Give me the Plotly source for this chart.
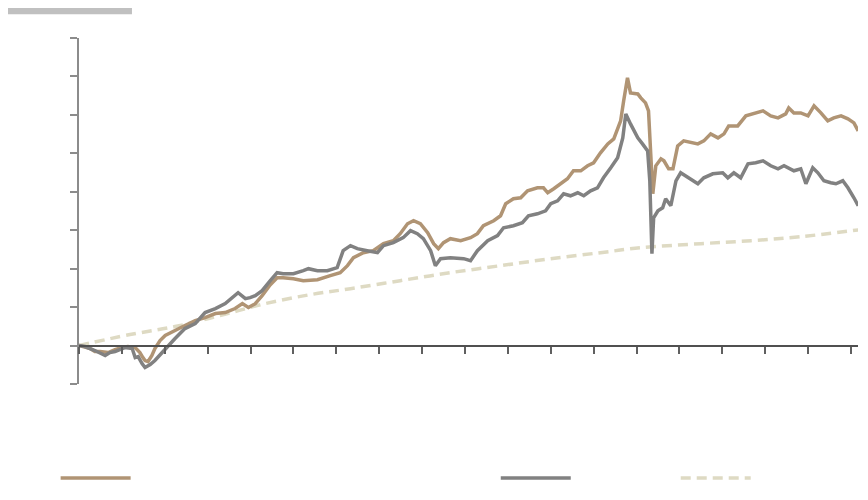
import plotly.graph_objects as go

# x: years since start; y: cumulative return (%)
tan_x = [0.00,0.14,0.26,0.37,0.49,0.68,0.84,1.00,1.14,1.31,1.42,1.49,1.54,1.61,1.70,1.77,1.89,2.01,2.12,2.24,2.47,2.71,2.94,3.18,3.41,3.64,3.81,3.95,4.11,4.27,4.46,4.62,4.76,5.00,5.23,5.56,5.86,6.09,6.26,6.40,6.63,6.86,7.10,7.33,7.49,7.66,7.80,7.96,8.13,8.27,8.38,8.50,8.66,8.90,9.13,9.29,9.43,9.67,9.83,9.95,10.13,10.30,10.46,10.69,10.83,10.93,11.07,11.23,11.39,11.53,11.70,11.86,12.00,12.16,12.33,12.47,12.63,12.70,12.79,12.86,13.03,13.10,13.21,13.28,13.33,13.38,13.45,13.57,13.64,13.75,13.85,13.96,14.10,14.27,14.43,14.57,14.73,14.90,15.04,15.15,15.36,15.55,15.74,15.95,16.13,16.30,16.48,16.55,16.67,16.83,17.00,17.14,17.30,17.46,17.60,17.77,17.93,18.07,18.17]
tan_y = [0,-2.6,-3.9,-7.8,-7.8,-9.1,-5.2,-2.6,-1.3,-2.6,-9.1,-15.6,-19.5,-20.8,-13.0,-3.9,6.5,13.0,15.6,19.5,26.0,32.5,36.4,41.6,42.9,48.1,54.5,49.4,54.5,64.9,79.2,88.3,88.3,87.0,84.4,85.7,90.9,94.8,103.9,114.3,120.8,123.4,132.5,136.4,145.5,158.4,162.3,158.4,146.8,132.5,126.0,133.8,139.0,136.4,140.3,145.5,155.8,162.3,168.8,184.4,190.9,192.2,201.3,205.2,205.2,198.7,203.9,210.4,216.9,227.3,227.3,233.8,237.7,250.6,262.3,268.8,292.2,318.2,348.1,328.6,327.3,322.1,315.6,305.2,257.1,197.4,233.8,242.9,240.3,229.9,229.9,259.7,266.2,263.6,262.3,266.2,275.3,270.1,275.3,285.7,285.7,298.7,301.3,305.2,298.7,296.1,301.3,309.1,302.6,302.6,298.7,311.7,302.6,292.2,296.1,298.7,294.8,289.6,279.2]

gray_x = [0.00,0.14,0.37,0.49,0.61,0.72,0.84,1.07,1.24,1.31,1.38,1.47,1.54,1.66,1.77,1.94,2.08,2.24,2.47,2.71,2.94,3.18,3.41,3.64,3.71,3.88,3.99,4.11,4.27,4.46,4.62,4.76,5.00,5.23,5.35,5.56,5.79,6.02,6.16,6.33,6.49,6.72,6.96,7.10,7.33,7.56,7.73,7.89,8.03,8.20,8.31,8.43,8.66,8.97,9.13,9.29,9.53,9.76,9.90,10.13,10.34,10.48,10.69,10.88,11.00,11.16,11.30,11.46,11.63,11.77,11.93,12.09,12.23,12.40,12.56,12.68,12.75,12.86,13.03,13.14,13.26,13.31,13.36,13.40,13.50,13.61,13.68,13.80,13.92,14.03,14.20,14.43,14.57,14.78,15.01,15.13,15.27,15.43,15.60,15.78,15.95,16.13,16.30,16.44,16.67,16.83,16.95,17.11,17.23,17.37,17.53,17.65,17.81,17.93,18.07,18.17]
gray_y = [0,-1.3,-6.5,-10.4,-13.0,-9.1,-7.8,-2.6,-3.9,-15.6,-14.3,-23.4,-28.6,-24.7,-19.5,-9.1,0,9.1,22.1,28.6,42.9,48.1,54.5,64.9,68.8,61.0,62.3,64.9,71.4,84.4,94.8,93.5,93.5,97.4,100.0,97.4,97.4,101.3,123.4,129.9,126.0,123.4,120.8,129.9,133.8,140.3,149.4,145.5,139.0,123.4,103.9,113.0,114.3,113.0,110.4,123.4,136.4,142.9,153.2,155.8,159.7,168.8,171.4,175.3,184.4,188.3,197.4,194.8,198.7,194.8,201.3,205.2,218.2,231.2,244.2,270.1,301.3,288.3,270.1,262.3,253.2,214.3,119.5,166.2,175.3,179.2,190.9,181.8,214.3,224.7,218.2,210.4,218.2,223.4,224.7,218.2,224.7,218.2,236.4,237.7,240.3,233.8,229.9,233.8,227.3,229.9,210.4,231.2,224.7,214.3,211.7,210.4,214.3,205.2,192.2,181.8]

bench_x = [0.00,1.19,2.24,3.29,4.34,5.39,6.33,7.49,8.66,9.83,11.00,12.16,13.10,14.50,15.67,16.83,18.19]
bench_y = [0,14.3,24.7,39.0,54.5,66.2,74.0,84.4,94.8,103.9,113.0,120.8,127.3,132.5,136.4,141.6,150.6]

TAN = "#B09474"
GRAY = "#818181"
BEIGE = "#DEDAC3"

fig = go.Figure()
fig.add_trace(go.Scatter(x=bench_x, y=bench_y, mode="lines", name="",
                         line=dict(color=BEIGE, width=3.5, dash="10px,6px", shape="spline"),
                         legend="legend3"))
fig.add_trace(go.Scatter(x=tan_x, y=tan_y, mode="lines", name="",
                         line=dict(color=TAN, width=3.5), legend="legend"))
fig.add_trace(go.Scatter(x=gray_x, y=gray_y, mode="lines", name="",
                         line=dict(color=GRAY, width=3.5), legend="legend2"))

leg_common = dict(y=-0.272, yanchor="middle", xanchor="left", itemwidth=70,
                  bgcolor="rgba(0,0,0,0)", font=dict(size=12))
fig.update_layout(
    width=868, height=500,
    margin=dict(l=71, r=18, t=30, b=124),
    plot_bgcolor="white", paper_bgcolor="white",
    showlegend=True,
    legend=dict(x=-0.03, **leg_common),
    legend2=dict(x=0.535, **leg_common),
    legend3=dict(x=0.766, **leg_common),
    xaxis=dict(range=[0, 18.165], dtick=1, tick0=0, showticklabels=False,
               showgrid=False, zeroline=False, showline=True, linecolor="#505050",
               linewidth=1.5, ticks="outside", ticklen=7, tickwidth=1.5,
               tickcolor="#606060", anchor="free", position=0.1098),
    yaxis=dict(range=[-50, 400], dtick=50, tick0=0, showticklabels=False,
               showgrid=False, zeroline=False, showline=True, linecolor="#8C8C8C",
               linewidth=2, ticks="outside", ticklen=7, tickwidth=2,
               tickcolor="#8C8C8C"),
    shapes=[dict(type="rect", xref="paper", yref="paper",
                 x0=-0.0976, x1=0.068, y0=1.069, y1=1.087,
                 fillcolor="#C0C0C0", line=dict(width=0))],
)

fig.write_html("out.html")
